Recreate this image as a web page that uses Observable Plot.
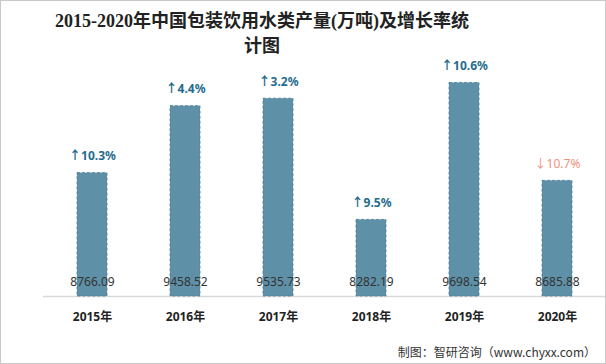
<!DOCTYPE html>
<html><head><meta charset="utf-8">
<script src="https://cdn.jsdelivr.net/npm/d3@7"></script>
<script src="https://cdn.jsdelivr.net/npm/@observablehq/plot@0.6"></script>
<style>
body{margin:0;background:#fff;}
#wrap{position:relative;width:606px;height:364px;overflow:hidden;background:#fff;}
#title{width:524px;height:58px;box-sizing:border-box;padding-top:9px;text-align:center;font-family:"Liberation Serif","DejaVu Serif","Noto Sans CJK SC",serif;font-weight:bold;font-size:18px;line-height:25px;color:#222;}
#foot{position:absolute;right:10px;top:343px;font-family:"Noto Sans CJK SC",sans-serif;font-size:12px;color:#333;}
#border{position:absolute;left:0;top:0;width:606px;height:364px;box-sizing:border-box;border:1px solid #c8c8c8;pointer-events:none;}
</style></head>
<body><div id="wrap">
<div id="title">2015-2020年中国包装饮用水类产量(万吨)及增长率统<br>计图</div>
<div id="chart"></div>
<div id="foot">制图：智研咨询（www.chyxx.com）</div>
<div id="border"></div>
</div>
<script>
const years = ["2015年","2016年","2017年","2018年","2019年","2020年"];
const output = [8766.09, 9458.52, 9535.73, 8282.19, 9698.54, 8685.88];
const growth = [10.3, 4.4, 3.2, 9.5, 10.6, -10.7];

const data = years.map((y,i)=>({year:y, value:output[i], growth:growth[i],
  label:(growth[i]>=0?"↑":"↓")+Math.abs(growth[i]).toFixed(1)+"%"}));
const up = data.filter(d=>d.growth>=0), down = data.filter(d=>d.growth<0);
const base = 7490;

const chart = Plot.plot({
  width:606, height:270,
  marginLeft:43, marginRight:0, marginTop:5, marginBottom:32,
  style:{fontFamily:"'Noto Sans','Noto Sans CJK SC',sans-serif", background:"transparent"},
  x:{domain:years, paddingInner:0.68, paddingOuter:0.34, label:null},
  y:{domain:[base, 9900], axis:null},
  marks:[
    Plot.ruleY([base], {stroke:"#d9d9d9", strokeWidth:1.5}),
    Plot.barY(data, {x:"year", y1:base, y2:"value", fill:"#5e90a7", stroke:"#4a7d95", strokeDasharray:"3,2", strokeWidth:0.8}),
    Plot.text(data, {x:"year", text:d=>d.value.toFixed(2), frameAnchor:"bottom", dy:-11, fill:"#333", fontSize:12}),
    Plot.text(up, {x:"year", y:"value", text:"label", dy:-17, fill:"#1f6c8e", fontSize:12, fontWeight:"bold"}),
    Plot.text(down, {x:"year", y:"value", text:"label", dy:-17, fill:"#f0917c", fontSize:12}),
    Plot.axisX({tickSize:0, tickPadding:16, fontSize:12, fontWeight:"bold", fill:"#222", label:null})
  ]
});
document.getElementById("chart").appendChild(chart);
</script>
</body></html>
